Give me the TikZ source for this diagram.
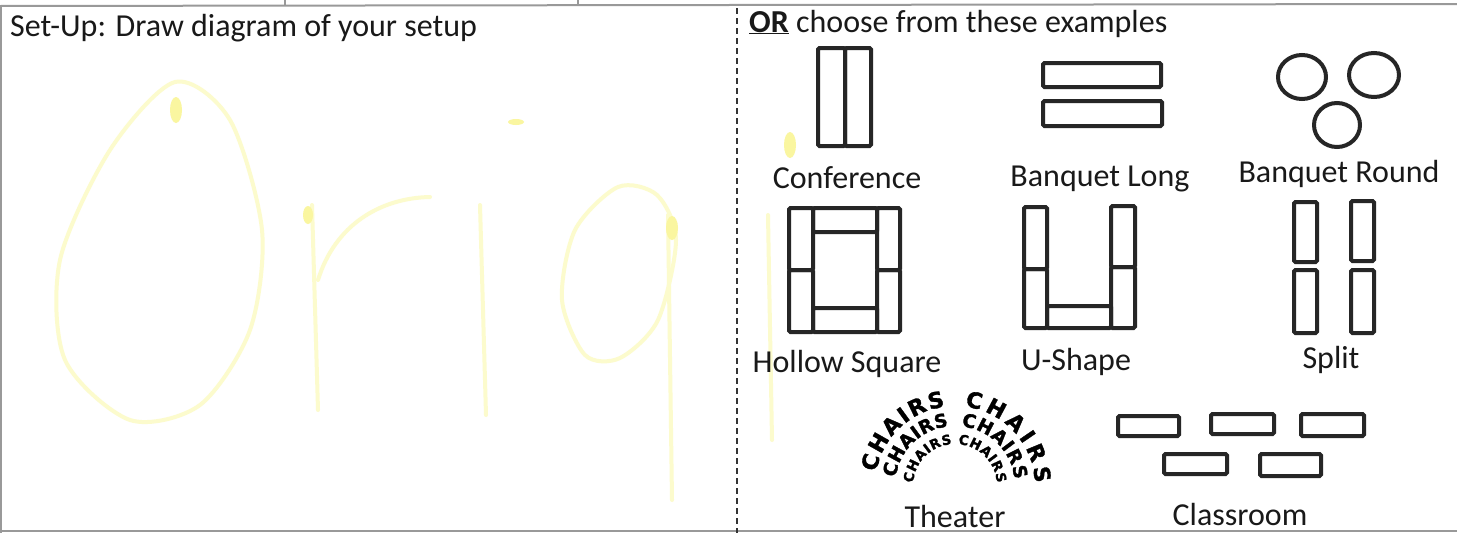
\documentclass[tikz,border=0pt]{standalone}
\usepackage{fontspec}
\setmainfont{Carlito}
\newfontfamily\chairfont{DejaVu Sans}[BoldFeatures={FakeBold=1.6}]
\usetikzlibrary{decorations.text}
\definecolor{hl}{RGB}{252,251,205}
\definecolor{hlblob}{RGB}{250,246,160}
\begin{document}
\begin{tikzpicture}[x=1pt,y=-1pt,
  tbl/.style={draw=black!85, line width=4pt, rounded corners=1.5pt},
  rnd/.style={draw=black!85, line width=4pt},
  lbl/.style={font=\fontsize{32}{36}\selectfont, anchor=base, inner sep=0pt, text=black!90},
  wm/.style={draw=hl, line width=4pt, line cap=round},
  blob/.style={fill=hlblob},
  frame/.style={draw=gray!80, line width=2pt},
  divline/.style={draw=black!80, line width=1.3pt, dash pattern=on 6pt off 4pt},
  chairarc/.style={decorate, decoration={text along path, text align=fit to path, text={|\chairfont\bfseries\fontsize{#1}{#1}\selectfont|CHAIRS}}}
]
\useasboundingbox (0,0) rectangle (1457,533);
\fill[white] (0,0) rectangle (1457,533);

% faint watermark
\draw[wm] plot[smooth cycle] coordinates {(175,82) (110,150) (60,260) (65,360) (130,420) (200,405) (250,330) (262,230) (230,120)};
\fill[blob] (176,110) ellipse[x radius=6pt, y radius=13pt];
\draw[wm] (312,205) -- (318,410);
\draw[wm] (318,280) .. controls (335,225) and (380,198) .. (430,197);
\fill[blob] (308,215) ellipse[x radius=5pt, y radius=9pt];
\draw[wm] (480,205) -- (486,415);
\fill[blob] (516,122) ellipse[x radius=8pt, y radius=3pt];
\draw[wm] plot[smooth cycle] coordinates {(618,187) (575,230) (562,300) (585,355) (620,358) (658,320) (676,240) (657,195)};
\draw[wm] (668,215) -- (672,500);
\fill[blob] (672,228) ellipse[x radius=6pt, y radius=12pt];
\draw[wm] (768,215) -- (772,440);
\fill[blob] (790,145) ellipse[x radius=6pt, y radius=13pt];

% frame
\draw[frame] (0,6) -- (1457,4);
\draw[frame] (285,0) -- (285,6);
\draw[frame] (578,0) -- (578,6);
\draw[frame] (1,6) -- (1,533);
\draw[frame] (0,531) -- (1457,531);
\draw[divline] (737,8) -- (737,533);

% headings
\node[lbl, anchor=base west] (setup) at (10,36) {Set-Up: Draw diagram of your setup};
\node[lbl, anchor=base west] (orhead) at (749,32) {\underline{\textbf{OR}} choose from these examples};

% Conference
\draw[tbl] (818,48) rectangle (845,146);
\draw[tbl] (845,48) rectangle (871,146);
\node[lbl] (conf) at (847,188) {Conference};

% Banquet Long
\draw[tbl] (1043,63) rectangle (1161,87);
\draw[tbl] (1043,101) rectangle (1162,126);
\node[lbl] (blong) at (1100,186) {Banquet Long};

% Banquet Round
\draw[rnd] (1302,77) ellipse[x radius=24pt, y radius=22pt];
\draw[rnd] (1374,75) ellipse[x radius=25pt, y radius=22pt];
\draw[rnd] (1337,125) ellipse[x radius=23pt, y radius=22pt];
\node[lbl] (bround) at (1339,182) {Banquet Round};

% Hollow Square
\draw[tbl] (789,208) rectangle (813,270);
\draw[tbl] (789,270) rectangle (813,332);
\draw[tbl] (877,208) rectangle (900,270);
\draw[tbl] (877,270) rectangle (900,332);
\draw[tbl] (813,208) rectangle (877,232);
\draw[tbl] (813,308) rectangle (877,332);
\node[lbl] (hollow) at (847,372) {Hollow Square};

% U-Shape
\draw[tbl] (1024,207) rectangle (1047,269);
\draw[tbl] (1024,269) rectangle (1047,328);
\draw[tbl] (1111,206) rectangle (1135,267);
\draw[tbl] (1111,267) rectangle (1135,328);
\draw[tbl] (1047,306) rectangle (1111,328);
\node[lbl] (ushape) at (1076,370) {U-Shape};

% Split
\draw[tbl] (1294,202) rectangle (1317,262);
\draw[tbl] (1294,270) rectangle (1317,333);
\draw[tbl] (1351,201) rectangle (1374,261);
\draw[tbl] (1351,270) rectangle (1374,333);
\node[lbl] (split) at (1331,368) {Split};

% Theater
\path[chairarc=22] (955,486) ++(170:80pt) arc[start angle=170, end angle=97, radius=80pt];
\path[chairarc=22] (955,486) ++(83:80pt) arc[start angle=83, end angle=2, radius=80pt];
\path[chairarc=18.5] (955,486) ++(172:60pt) arc[start angle=172, end angle=96, radius=60pt];
\path[chairarc=18.5] (955,486) ++(84:60pt) arc[start angle=84, end angle=6, radius=60pt];
\path[chairarc=13.5] (955,486) ++(176:42pt) arc[start angle=176, end angle=94, radius=42pt];
\path[chairarc=13.5] (955,486) ++(86:42pt) arc[start angle=86, end angle=4, radius=42pt];
\node[lbl] (theater) at (955,527) {Theater};

% Classroom
\draw[tbl] (1118,416) rectangle (1179,436);
\draw[tbl] (1211,414) rectangle (1274,434);
\draw[tbl] (1301,414) rectangle (1364,436);
\draw[tbl] (1164,454) rectangle (1227,474);
\draw[tbl] (1260,454) rectangle (1321,476);
\node[lbl] (classroom) at (1240,525) {Classroom};
\end{tikzpicture}
\end{document}
